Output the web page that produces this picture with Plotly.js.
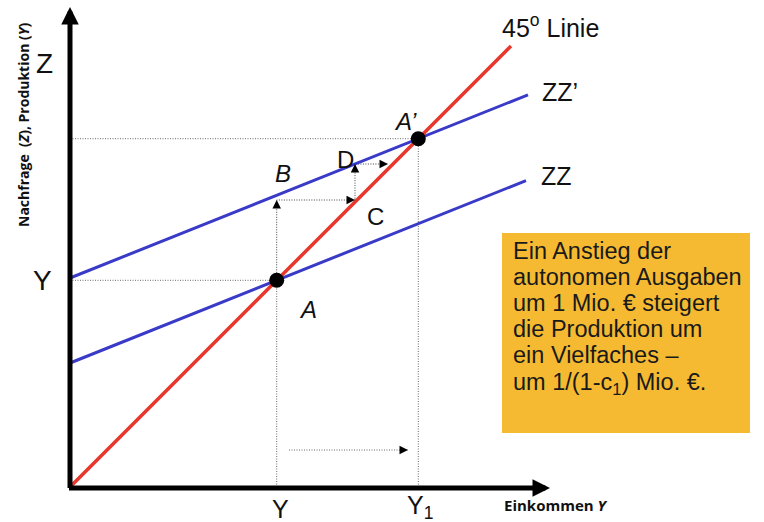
<!DOCTYPE html>
<html>
<head>
<meta charset="utf-8">
<script src="https://cdn.plot.ly/plotly-3.0.1.min.js"></script>
<style>html,body{margin:0;padding:0;background:#fff;}#chart{width:764px;height:522px;}</style>
</head>
<body>
<div id="chart"></div>
<script>
// ---- data (chart units) ----
const line45X = [0, 44.1];
const line45Y = [0, 44.1];
const zzX = [0, 45.6];
const zzY = [12.4, 30.64];
const zzpX = [0, 45.8];
const zzpY = [20.9, 39.22];
const eqX = [20.67, 34.83];          // A, A'
const eqY = [20.67, 34.83];
const eqNames = ['A', 'A’'];
const stepX = [20.67, 20.67, 28.5, 28.5, 31.8];   // adjustment path A -> B -> C -> D
const stepY = [20.67, 28.7, 28.7, 32.3, 32.3];
const shiftX = [21.9, 33.8];          // shift of output
const shiftY = [3.7, 3.7];
const axisTop = 48.0, axisRight = 48.0;
const boxLines = [
  'Ein Anstieg der',
  'autonomen Ausgaben',
  'um 1 Mio. € steigert',
  'die Produktion um',
  'ein Vielfaches –',
  'um 1/(1-c<sub>1</sub>) Mio. €.'
];

const FONT = 'Liberation Sans, Arial, sans-serif';
const BOLDFONT = 'Open Sans, Liberation Sans, sans-serif';
const RED = '#E8372C', BLUE = '#3A3AC8', GUIDE = '#6a6a6a';

const traces = [];
// guide lines (dotted)
const gx = [], gy = [];
for (let i = 0; i < eqX.length; i++) {
  gx.push(0, eqX[i], null, eqX[i], eqX[i], null);
  gy.push(eqY[i], eqY[i], null, 0, eqY[i], null);
}
traces.push({x: gx, y: gy, mode: 'lines', line: {color: GUIDE, width: 1, dash: '1px,1.5px'}, hoverinfo: 'skip'});
traces.push({x: stepX, y: stepY, mode: 'lines', line: {color: '#444', width: 1, dash: '1px,1.5px'}, hoverinfo: 'skip'});
traces.push({x: shiftX, y: shiftY, mode: 'lines', line: {color: GUIDE, width: 1, dash: '1px,1.5px'}, hoverinfo: 'skip'});
// main lines
traces.push({x: zzX, y: zzY, mode: 'lines', line: {color: BLUE, width: 3}, name: 'ZZ'});
traces.push({x: zzpX, y: zzpY, mode: 'lines', line: {color: BLUE, width: 3}, name: 'ZZ’'});
traces.push({x: line45X, y: line45Y, mode: 'lines', line: {color: RED, width: 3.5}, name: '45° Linie'});
traces.push({x: eqX, y: eqY, mode: 'markers', marker: {color: '#000', size: 15}, name: 'eq'});

const ann = [];
function txt(x, y, t, size, opts) {
  ann.push(Object.assign({x: x, y: y, xref: 'x', yref: 'y', text: t, showarrow: false,
    font: {family: FONT, size: size, color: '#111'}, xanchor: 'center', yanchor: 'middle'}, opts || {}));
}
function arrowTo(x, y, ax, ay, w, s) {
  ann.push({x: x, y: y, ax: ax, ay: ay, xref: 'x', yref: 'y', axref: 'x', ayref: 'y', text: '',
    showarrow: true, arrowhead: 2, arrowsize: s, arrowwidth: w, arrowcolor: '#000'});
}
function headAt(x, y, dx, dy) {
  ann.push({x: x, y: y, ax: dx, ay: dy, xref: 'x', yref: 'y', text: '',
    showarrow: true, arrowhead: 2, arrowsize: 1.7, arrowwidth: 1, arrowcolor: '#000'});
}
// axes
arrowTo(0, axisTop, 0, -0.25, 5, 0.7);
arrowTo(axisRight, -0.1, -0.25, -0.1, 5, 0.7);
// small arrowheads on adjustment path
headAt(stepX[1], stepY[1], 0, 8);
headAt(stepX[2], stepY[2], -8, 0);
headAt(stepX[3], stepY[3], 0, 8);
headAt(stepX[4], stepY[4], -8, 0);
headAt(shiftX[1], shiftY[1], -8, 0);

// labels
txt(-2.6, 42.4, 'Z', 28);
txt(-2.8, eqY[0], 'Y', 28);
txt(eqX[0], -2.2, 'Y', 25, {xshift: 4});
txt(eqX[1], -2.0, 'Y<sub>1</sub>', 25, {xshift: 2});
txt(43.2, -1.8, '<b>Einkommen <i>Y</i></b>', 15, {xanchor: 'left', font: {family: BOLDFONT, size: 15, color: '#111'}});
txt(-4.7, 36.2, '<b>Nachfrage  (<i>Z</i>), Produktion (<i>Y</i>)</b>', 14, {textangle: -90, font: {family: BOLDFONT, size: 14, color: '#111'}});
txt(43.0, 46.1, '45<sup>o</sup> Linie', 25, {xanchor: 'left'});
txt(47.0, 39.5, 'ZZ’', 25, {xanchor: 'left'});
txt(46.9, 31.1, 'ZZ', 25, {xanchor: 'left'});
txt(33.5, 36.6, '<i>' + eqNames[1] + '</i>', 24);
txt(23.8, 17.8, '<i>' + eqNames[0] + '</i>', 24);
txt(21.3, 31.4, '<i>B</i>', 24);
txt(27.5, 32.8, 'D', 24);
txt(30.5, 27.1, 'C', 24);
// box text
for (let i = 0; i < boxLines.length; i++) {
  const hasSub = boxLines[i].indexOf('<sub>') >= 0;
  txt(44.1, 23.6 - 2.6 * i - (hasSub ? 0.25 : 0), boxLines[i], 23.5,
      {xanchor: 'left', font: {family: FONT, size: 23.5, color: '#1a1a1a'}});
}

const layout = {
  width: 764, height: 522,
  margin: {l: 0, r: 0, t: 0, b: 0},
  paper_bgcolor: '#fff', plot_bgcolor: '#fff',
  showlegend: false,
  xaxis: {range: [-7.0, 69.4], visible: false, showgrid: false, zeroline: false, fixedrange: true},
  yaxis: {range: [-3.5, 48.7], visible: false, showgrid: false, zeroline: false, fixedrange: true},
  shapes: [
    {type: 'rect', xref: 'x', yref: 'y', x0: 43.2, x1: 68.0, y0: 5.4, y1: 25.4,
     fillcolor: '#F5BA32', line: {width: 0}, layer: 'below'}
  ],
  annotations: ann
};
Plotly.newPlot('chart', traces, layout, {staticPlot: true, displayModeBar: false});
</script>
</body>
</html>
